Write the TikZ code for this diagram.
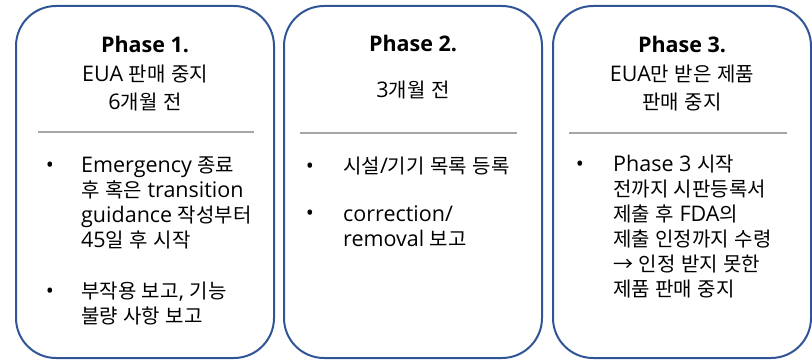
\documentclass[tikz,border=0pt]{standalone}
\usepackage{fontspec}
\setmainfont{Open Sans}[Scale=1.075]
\newfontfamily\kofont{Noto Sans CJK KR}
\usetikzlibrary{positioning}

% hangul and the arrow are set in the Korean font
\XeTeXinterchartokenstate=1
\newXeTeXintercharclass\KoClass
\count255="AC00
\loop
  \XeTeXcharclass\count255=\KoClass
  \ifnum\count255<"D7A3 \advance\count255 by 1
\repeat
\XeTeXcharclass"2192=\KoClass
\XeTeXinterchartoks 0 \KoClass = {\begingroup\kofont}
\XeTeXinterchartoks 4095 \KoClass = {\begingroup\kofont}
\XeTeXinterchartoks \KoClass 0 = {\endgroup}
\XeTeXinterchartoks \KoClass 4095 = {\endgroup}

\definecolor{phaseblue}{HTML}{2F5597}
\definecolor{rulegray}{HTML}{A6A6A6}

\begin{document}
\begin{tikzpicture}[x=1pt,y=-1pt,
    phasebox/.style={draw=phaseblue, line width=2pt, rounded corners=40pt,
      minimum width=258pt, minimum height=352pt, inner sep=0pt},
    title/.style={align=center, inner sep=0pt, anchor=base,
      font=\fontsize{20}{28.5}\selectfont},
    dot/.style={inner sep=0pt, anchor=base, font=\fontsize{20}{25}\selectfont},
    item/.style={align=left, inner sep=0pt, anchor=base west,
      font=\fontsize{20}{25}\selectfont},
    sep/.style={draw=rulegray, line width=2pt}]
    \useasboundingbox (0,0) rectangle (812,361);
    % three phase boxes
    \node [phasebox] (p1) at (145,182) {};
    \node [phasebox] (p2) at (413,182) {};
    \node [phasebox] (p3) at (682,182) {};
    % phase 1
    \node [title] (t1) at (145,110) {\textbf{Phase 1.}\\EUA 판매 중지\\6개월 전};
    \draw [sep] (38,132) -- (254,132);
    \node [dot] (d11) at (50,172) {•};
    \node [item] (i11) at (81,247) {Emergency 종료\\후 혹은 transition\\guidance 작성부터\\45일 후 시작};
    \node [dot] (d12) at (50,298) {•};
    \node [item] (i12) at (81,323) {부작용 보고, 기능\\불량 사항 보고};
    % phase 2
    \node [title] (t2) at (413,52) {\textbf{Phase 2.}};
    \node [title] (t2b) at (413,98) {3개월 전};
    \draw [sep] (300,133) -- (517,133);
    \node [dot] (d21) at (310,173) {•};
    \node [item] (i21) at (343,173) {시설/기기 목록 등록};
    \node [dot] (d22) at (310,220) {•};
    \node [item] (i22) at (343,246) {correction/\\removal 보고};
    % phase 3
    \node [title] (t3) at (682,110) {\textbf{Phase 3.}\\EUA만 받은 제품\\판매 중지};
    \draw [sep] (569,133) -- (787,133);
    \node [dot] (d31) at (580,171) {•};
    \node [item] (i31) at (613,296) {Phase 3 시작\\전까지 시판등록서\\제출 후 FDA의\\제출 인정까지 수령\\→ 인정 받지 못한\\제품 판매 중지};
\end{tikzpicture}
\end{document}
